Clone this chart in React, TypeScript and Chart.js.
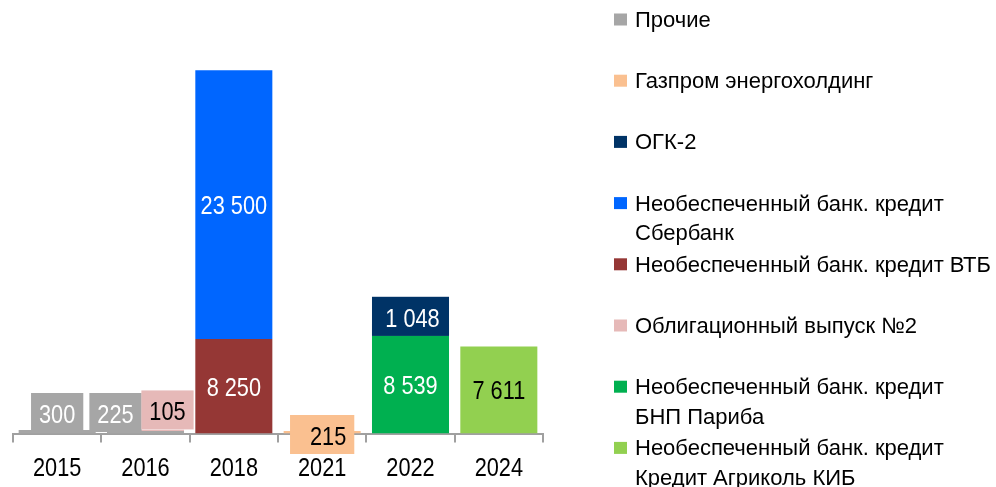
import React, { useEffect, useRef } from 'react';
import { Chart, registerables } from 'chart.js';

Chart.register(...registerables);

// ---------- data ----------
const categories = ['2015', '2016', '2018', '2021', '2022', '2024'];

const prochie = [300, 225, null, null, null, null];
const gazprom = [null, null, null, 215, null, null];
const ogk2 = [null, null, null, null, 1048, null];
const sberbank = [null, null, 23500, null, null, null];
const vtb = [null, null, 8250, null, null, null];
const bonds2 = [null, 105, null, null, null, null];
const bnp = [null, null, null, null, 8539, null];
const agricole = [null, null, null, null, null, 7611];

const seriesNames = {
  prochie: 'Прочие',
  gazprom: 'Газпром энергохолдинг',
  ogk2: 'ОГК-2',
  sberbank: 'Необеспеченный банк. кредит Сбербанк',
  vtb: 'Необеспеченный банк. кредит ВТБ',
  bonds2: 'Облигационный выпуск №2',
  bnp: 'Необеспеченный банк. кредит БНП Париба',
  agricole: 'Необеспеченный банк. кредит Кредит Агриколь КИБ',
};

// ---------- styles ----------
const COLORS: Record<string, string> = {
  prochie: '#A6A6A6',
  gazprom: '#FAC090',
  ogk2: '#003366',
  sberbank: '#0066FF',
  vtb: '#953735',
  bonds2: '#E6B9B8',
  bnp: '#00B050',
  agricole: '#92D050',
};
const TEXT_COLORS: Record<string, string> = {
  prochie: '#FFFFFF',
  gazprom: '#000000',
  ogk2: '#FFFFFF',
  sberbank: '#FFFFFF',
  vtb: '#FFFFFF',
  bonds2: '#000000',
  bnp: '#FFFFFF',
  agricole: '#000000',
};
const legendOrder = ['prochie', 'gazprom', 'ogk2', 'sberbank', 'vtb', 'bonds2', 'bnp', 'agricole'];
const stackOrder = ['prochie', 'bonds2', 'gazprom', 'vtb', 'sberbank', 'bnp', 'ogk2', 'agricole'];
const seriesData: Record<string, (number | null)[]> = { prochie, gazprom, ogk2, sberbank, vtb, bonds2, bnp, agricole };

// small-value labels drawn in coloured boxes
type Place = { dx: number; anchor: 'above' | 'center' | 'stack'; padL: number; padR: number; full?: boolean };
const boxPlacements: Record<string, Place> = {
  'prochie|2015': { dx: 0, anchor: 'above', padL: 8, padR: 8 },
  'prochie|2016': { dx: -30, anchor: 'above', padL: 8, padR: 8 },
  'bonds2|2016': { dx: 22, anchor: 'above', padL: 8, padR: 8 },
  'gazprom|2021': { dx: 0, anchor: 'center', padL: 20, padR: 8 },
  'ogk2|2022': { dx: 0, anchor: 'stack', padL: 0, padR: 0, full: true },
};

const FONT = "'Liberation Sans', Arial, sans-serif";
const NARROW_SCALE = 0.82;
const VALUE_SIZE = 26.5;
const AXIS_SIZE = 26.5;
const LEGEND_SIZE = 22;

const fmt = (v: number) => String(v).replace(/\B(?=(\d{3})+(?!\d))/g, ' ');

function narrowWidth(ctx: CanvasRenderingContext2D, text: string, size: number) {
  ctx.save();
  ctx.font = `${size}px ${FONT}`;
  const w = ctx.measureText(text).width * NARROW_SCALE;
  ctx.restore();
  return w;
}

// draws condensed text; y is the vertical centre of the digits (cap height)
function narrowText(ctx: CanvasRenderingContext2D, text: string, x: number, yCenter: number, size: number, color: string, align: CanvasTextAlign) {
  ctx.save();
  ctx.font = `${size}px ${FONT}`;
  ctx.fillStyle = color;
  ctx.textAlign = align;
  ctx.textBaseline = 'alphabetic';
  ctx.translate(x, yCenter + size * 0.358);
  ctx.scale(NARROW_SCALE, 1);
  ctx.fillText(text, 0, 0);
  ctx.restore();
}

const labelPlugin = {
  id: 'valueLabels',
  afterDatasetsDraw(chart: any) {
    const ctx = chart.ctx;
    chart.data.datasets.forEach((ds: any, di: number) => {
      const meta = chart.getDatasetMeta(di);
      meta.data.forEach((el: any, i: number) => {
        const v = ds.data[i];
        if (v == null) return;
        const { x, y, base, width } = el.getProps(['x', 'y', 'base', 'width'], true);
        const key = ds.key as string;
        const text = fmt(v);
        const place = boxPlacements[`${key}|${categories[i]}`];
        if (place) {
          const tw = narrowWidth(ctx, text, VALUE_SIZE);
          const w = place.full ? width : tw + place.padL + place.padR;
          const h = 39;
          const cx = x + place.dx;
          const left = cx - w / 2;
          let top: number;
          if (place.anchor === 'above') top = base - 1.5 - h;
          else if (place.anchor === 'center') top = base + 1 - h / 2;
          else top = base - h;
          ctx.save();
          ctx.fillStyle = COLORS[key];
          ctx.fillRect(left, top, w, h);
          ctx.restore();
          if (place.full) narrowText(ctx, text, cx + 2, top + h / 2 + 1, VALUE_SIZE, TEXT_COLORS[key], 'center');
          else narrowText(ctx, text, left + place.padL, top + h / 2 + 1, VALUE_SIZE, TEXT_COLORS[key], 'left');
        } else {
          narrowText(ctx, text, x, (y + base) / 2, VALUE_SIZE, TEXT_COLORS[key], 'center');
        }
      });
    });
  },
};

const axisLabelPlugin = {
  id: 'axisLabels',
  afterDraw(chart: any) {
    const ctx = chart.ctx;
    const xs = chart.scales.x;
    categories.forEach((c, i) => {
      const px = xs.getPixelForTick(i);
      narrowText(ctx, c, px, 466.5, AXIS_SIZE, '#000000', 'center');
    });
  },
};

const legendPlugin = {
  id: 'sideLegend',
  afterDraw(chart: any) {
    const ctx = chart.ctx;
    ctx.save();
    ctx.font = `${LEGEND_SIZE}px ${FONT}`;
    ctx.textBaseline = 'alphabetic';
    ctx.textAlign = 'left';
    const textX = 635;
    const maxW = 360;
    legendOrder.forEach((key, idx) => {
      const baseline = 27 + idx * 61.2;
      ctx.fillStyle = COLORS[key];
      ctx.fillRect(614, baseline - 13.5, 13, 12);
      const words = (seriesNames as any)[key].split(' ');
      const lines: string[] = [];
      let cur = '';
      words.forEach((w: string) => {
        const test = cur ? cur + ' ' + w : w;
        if (ctx.measureText(test).width > maxW && cur) {
          lines.push(cur);
          cur = w;
        } else cur = test;
      });
      if (cur) lines.push(cur);
      ctx.fillStyle = '#000000';
      lines.forEach((ln, li) => ctx.fillText(ln, textX, baseline + li * 29.5));
    });
    ctx.restore();
  },
};

export default function App() {
  const ref = useRef<HTMLCanvasElement | null>(null);
  useEffect(() => {
    if (!ref.current) return;
    const chart = new Chart(ref.current, {
      type: 'bar',
      data: {
        labels: categories,
        datasets: stackOrder.map((key) => ({
          key,
          label: (seriesNames as any)[key],
          data: seriesData[key],
          backgroundColor: COLORS[key],
          borderWidth: 0,
          barPercentage: 0.872,
          categoryPercentage: 1,
        })) as any,
      },
      options: {
        animation: false,
        responsive: true,
        maintainAspectRatio: false,
        layout: { padding: { left: 13, right: 453, top: 33, bottom: 44.5 } },
        plugins: { legend: { display: false }, tooltip: { enabled: false } },
        scales: {
          x: {
            stacked: true,
            grid: { display: true, offset: true, drawOnChartArea: false, tickLength: 9, color: '#A0A0A0', lineWidth: 2 },
            border: { display: true, color: '#A0A0A0', width: 2 },
            ticks: { display: false },
          },
          y: { stacked: true, display: false, min: 0, max: 35000 },
        },
      },
      plugins: [labelPlugin, axisLabelPlugin, legendPlugin],
    });
    return () => chart.destroy();
  }, []);
  return (
    <div style={{ position: 'fixed', left: 0, top: 0, width: 996, height: 487, background: '#fff' }}>
      <canvas ref={ref} />
    </div>
  );
}
